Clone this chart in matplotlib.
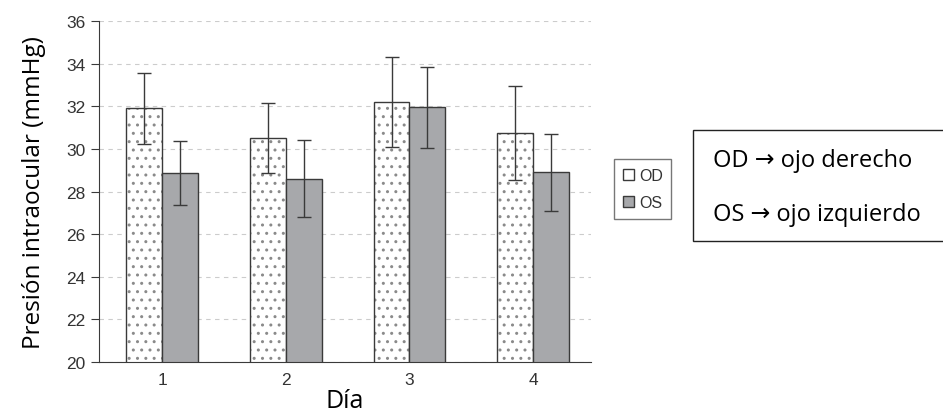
import numpy as np
import matplotlib
matplotlib.use('Agg')
import matplotlib.pyplot as plt
from matplotlib.patches import Patch, Rectangle

days = [1, 2, 3, 4]
od_mean = [31.9, 30.5, 32.2, 30.75]
od_err = [1.65, 1.65, 2.1, 2.2]
os_mean = [28.85, 28.6, 31.95, 28.9]
os_err = [1.5, 1.8, 1.9, 1.8]
y_ticks = [20, 22, 24, 26, 28, 30, 32, 34, 36]

edge = '#3a3a3a'
dots = '#8a8a8a'
gray = '#a7a8ab'
width = 0.29

plt.rcParams['hatch.linewidth'] = 1.0

fig = plt.figure(figsize=(9.43, 4.14), dpi=100)
ax = fig.add_axes([0.105, 0.123, 0.522, 0.824])

x = np.array(days)
# dotted fill first (hatch takes the edge colour), then the dark outline on top
ax.bar(x - width / 2, od_mean, width, color='white', edgecolor=dots, linewidth=0,
       hatch='..', zorder=2)
ax.bar(x - width / 2, od_mean, width, color='none', edgecolor=edge, linewidth=1.0, zorder=2)
ax.bar(x + width / 2, os_mean, width, color=gray, edgecolor=edge, linewidth=1.0, zorder=2)
ax.errorbar(x - width / 2, od_mean, yerr=od_err, fmt='none', ecolor=edge, elinewidth=1.0,
            capsize=5, capthick=1.0, zorder=3)
ax.errorbar(x + width / 2, os_mean, yerr=os_err, fmt='none', ecolor=edge, elinewidth=1.0,
            capsize=5, capthick=1.0, zorder=3)

ax.set_xlim(0.49, 4.47)
ax.set_ylim(20, 36)
ax.set_yticks(y_ticks)
ax.set_xticks(days)
ax.yaxis.grid(True, linestyle=(0, (4, 4)), color='#cccccc', linewidth=0.8, zorder=0)
ax.set_axisbelow(True)
for side in ['top', 'right']:
    ax.spines[side].set_visible(False)
ax.spines['left'].set_color(edge)
ax.spines['bottom'].set_color(edge)
ax.tick_params(axis='y', length=6, color=edge, labelsize=12.5, labelcolor='#333333', pad=4)
ax.tick_params(axis='x', length=0, pad=7, labelsize=12.5, labelcolor='#333333')
for lab in ax.get_xticklabels() + ax.get_yticklabels():
    lab.set_family('Liberation Sans')

ax.set_ylabel('Presión intraocular (mmHg)', fontsize=17.5, family='Open Sans', labelpad=14)
ax.set_xlabel('Día', fontsize=18, family='Open Sans', labelpad=1)

handles = [Patch(facecolor='white', edgecolor=edge, label='OD'),
           Patch(facecolor=gray, edgecolor=edge, label='OS')]
leg = fig.legend(handles=handles, loc='upper left', bbox_to_anchor=(614 / 943, 1 - 160 / 414),
                 borderaxespad=0, frameon=True, fancybox=False, edgecolor='#555555',
                 handlelength=0.7, handleheight=0.7, handletextpad=0.3, labelspacing=0.75,
                 borderpad=0.55, prop={'family': 'Liberation Sans', 'size': 11.5})
leg.get_frame().set_linewidth(1.0)
for t in leg.get_texts():
    t.set_color('#333333')

fig.patches.append(Rectangle((693 / 943, 1 - 242 / 414), 0.4, 111 / 414,
                             transform=fig.transFigure, facecolor='white',
                             edgecolor='#222222', linewidth=1.0))
fig.text(713 / 943, 1 - 161 / 414, 'OD → ojo derecho', fontsize=17,
         family=['Open Sans', 'DejaVu Sans'], va='center', ha='left')
fig.text(713 / 943, 1 - 215 / 414, 'OS → ojo izquierdo', fontsize=17,
         family=['Open Sans', 'DejaVu Sans'], va='center', ha='left')

fig.savefig('out.png', dpi=100)
